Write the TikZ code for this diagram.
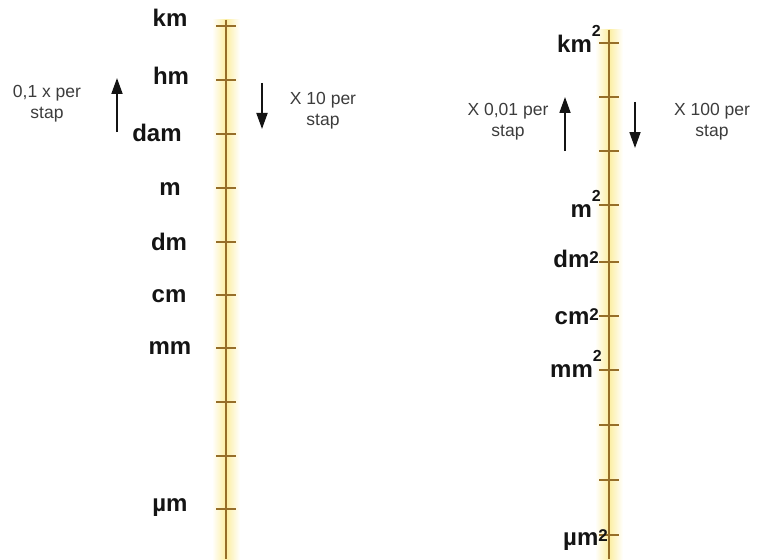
\documentclass[tikz,border=0pt]{standalone}
\usepackage{fontspec}
\setmainfont{Liberation Sans}
\usetikzlibrary{arrows.meta,positioning}
\definecolor{ink}{RGB}{20,20,20}
\definecolor{grey}{RGB}{60,60,60}
\definecolor{rail}{RGB}{150,110,40}
\definecolor{glow}{RGB}{252,238,160}
\tikzset{
  unit/.style={font=\fontsize{24}{28}\selectfont\bfseries,text=ink,inner sep=0pt,anchor=base},
  unitsq/.style={font=\fontsize{24}{28}\selectfont\bfseries,text=ink,inner sep=0pt,anchor=base east},
  note/.style={font=\fontsize{17.5}{21}\selectfont,text=grey,align=center,inner sep=0pt},
  arr/.style={-{Triangle[length=16pt,width=11pt]},line width=1.8pt,ink},
  rung/.style={rail,line width=1.3pt},
}
\newcommand{\sqhi}{\raisebox{16pt}{\fontsize{16}{16}\selectfont 2}}
\newcommand{\sqlo}{\raisebox{4pt}{\fontsize{17}{17}\selectfont 2}}

\begin{document}
\begin{tikzpicture}[x=1pt,y=-1pt]
\useasboundingbox (0,0) rectangle (762,559);
% length rail
\shade[left color=white,right color=white,middle color=glow] (212,20) rectangle (240,559);
\draw[rung] (226,20) -- (226,559);
\foreach \y in {26,80,134,188,242,295,348,402,456,509}
  \draw[rung] (216,\y) -- (236,\y);
\foreach \x/\y/\lab/\nm in {170/27/km/km,171/85/hm/hm,157/141/dam/dam,170/195/m/m,
    169/250/dm/dm,169/302/cm/cm,170/354/mm/mm,170/511/µm/um}
  \node[unit] (\nm) at (\x,\y) {\lab};
% area rail
\shade[left color=white,right color=white,middle color=glow] (595,30) rectangle (623,559);
\draw[rung] (609,30) -- (609,559);
\foreach \y in {43,97,151,205,262,316,370,425,480,535}
  \draw[rung] (599,\y) -- (619,\y);
\node[unitsq] (km2) at (601,53) {km\sqhi};
\node[unitsq] (m2) at (601,217) {m\sqhi};
\node[unitsq] (dm2) at (599,267) {dm\sqlo};
\node[unitsq] (cm2) at (599,324) {cm\sqlo};
\node[unitsq] (mm2) at (602,377) {mm\sqhi};
\node[unitsq] (um2) at (608,545) {µm\sqlo};
% step notes
\node[note] (upL) at (47,104) {0,1 x per\\stap};
\node[note] (dnL) at (323,111) {X 10 per\\stap};
\node[note] (upR) at (508,122) {X 0,01 per\\stap};
\node[note] (dnR) at (712,122) {X 100 per\\stap};
\coordinate (a0) at (117,132);
\coordinate (a1) at (117,78);
\coordinate (b0) at (262,83);
\coordinate (b1) at (262,129);
\coordinate (c0) at (565,151);
\coordinate (c1) at (565,97);
\coordinate (d0) at (635,102);
\coordinate (d1) at (635,148);
\draw[arr] (a0) -- (a1);
\draw[arr] (b0) -- (b1);
\draw[arr] (c0) -- (c1);
\draw[arr] (d0) -- (d1);
\end{tikzpicture}
\end{document}
